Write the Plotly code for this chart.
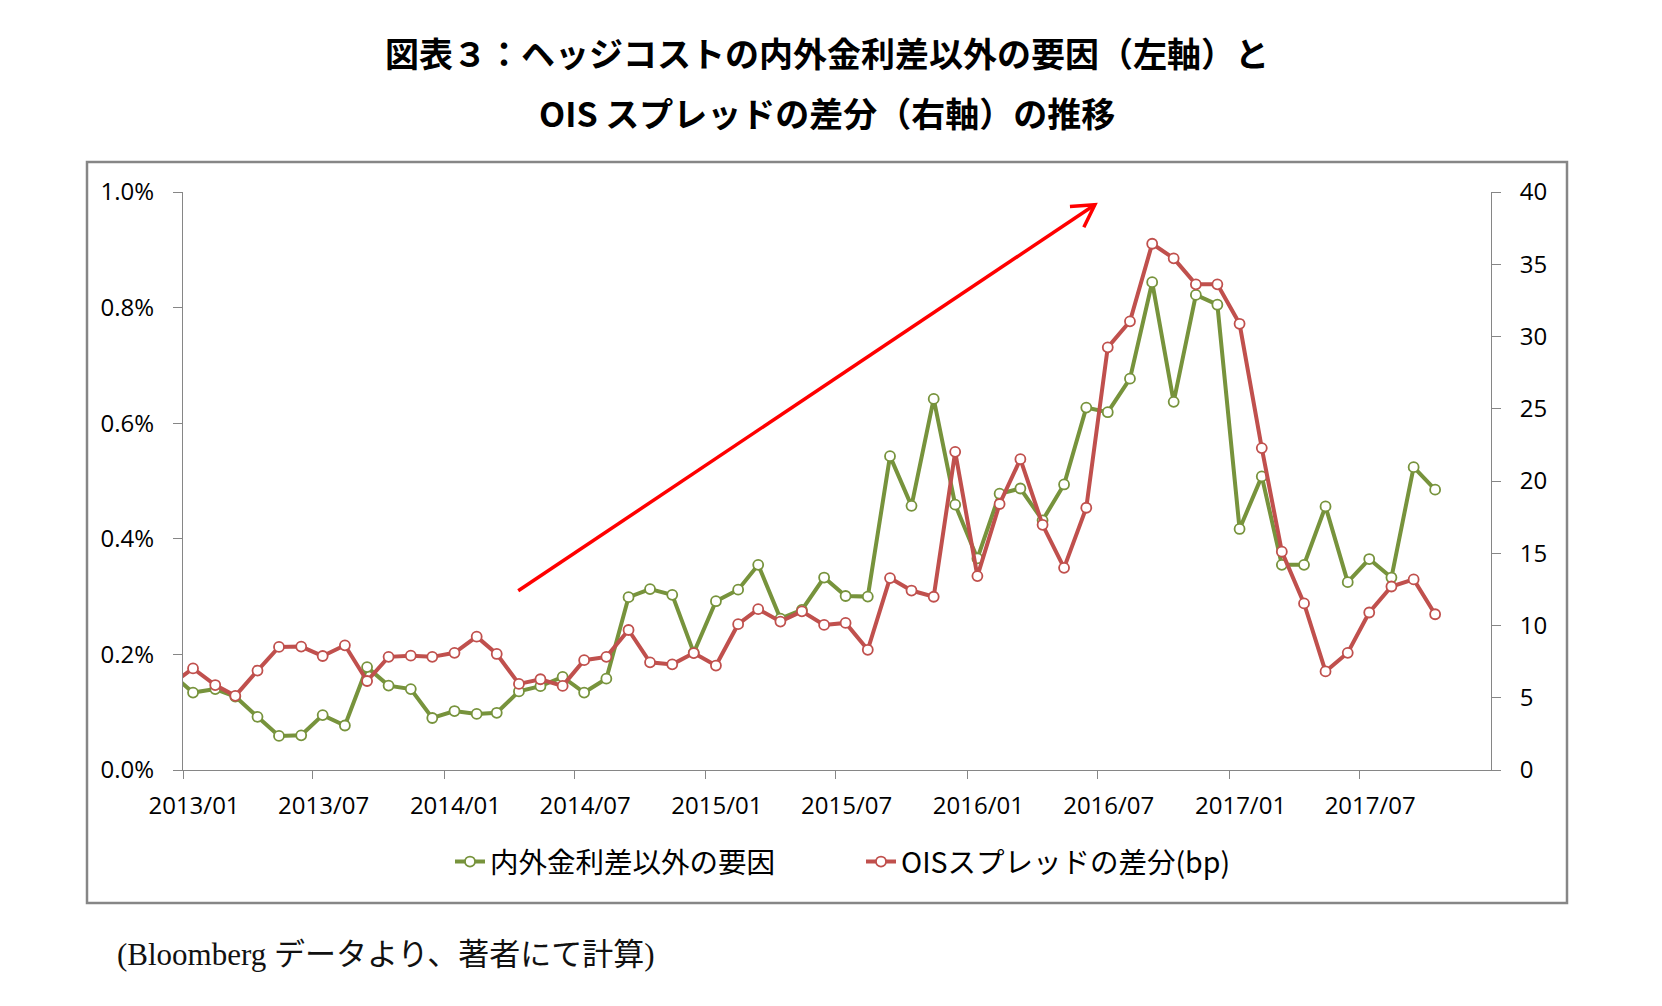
import math
import pandas as pd
import plotly.graph_objects as go

# ---------------- data ----------------
months = [
    "2012-12",
    "2013-01", "2013-02", "2013-03", "2013-04", "2013-05", "2013-06",
    "2013-07", "2013-08", "2013-09", "2013-10", "2013-11", "2013-12",
    "2014-01", "2014-02", "2014-03", "2014-04", "2014-05", "2014-06",
    "2014-07", "2014-08", "2014-09", "2014-10", "2014-11", "2014-12",
    "2015-01", "2015-02", "2015-03", "2015-04", "2015-05", "2015-06",
    "2015-07", "2015-08", "2015-09", "2015-10", "2015-11", "2015-12",
    "2016-01", "2016-02", "2016-03", "2016-04", "2016-05", "2016-06",
    "2016-07", "2016-08", "2016-09", "2016-10", "2016-11", "2016-12",
    "2017-01", "2017-02", "2017-03", "2017-04", "2017-05", "2017-06",
    "2017-07", "2017-08", "2017-09", "2017-10",
]

# 内外金利差以外の要因 (%), left axis
factor_pct = [
    0.167,
    0.134, 0.140, 0.127, 0.092, 0.059, 0.060,
    0.095, 0.077, 0.178, 0.146, 0.140, 0.090,
    0.102, 0.097, 0.099, 0.136, 0.145, 0.161,
    0.134, 0.158, 0.299, 0.313, 0.303, 0.203,
    0.292, 0.312, 0.355, 0.262, 0.277, 0.333,
    0.301, 0.300, 0.543, 0.457, 0.642, 0.459,
    0.366, 0.478, 0.487, 0.432, 0.494, 0.627,
    0.619, 0.677, 0.844, 0.637, 0.822, 0.805,
    0.417, 0.508, 0.355, 0.355, 0.456, 0.325,
    0.365, 0.333, 0.524, 0.485,
]

# OISスプレッドの差分 (bp), right axis
ois_diff_bp = [
    5.9,
    7.03, 5.88, 5.13, 6.88, 8.52, 8.54,
    7.89, 8.63, 6.16, 7.83, 7.91, 7.83,
    8.11, 9.23, 8.03, 5.96, 6.28, 5.82,
    7.60, 7.83, 9.69, 7.45, 7.31, 8.09,
    7.23, 10.09, 11.13, 10.27, 10.98, 10.04,
    10.18, 8.32, 13.28, 12.42, 11.99, 22.02,
    13.42, 18.41, 21.51, 16.97, 13.99, 18.15,
    29.25, 31.05, 36.42, 35.41, 33.61, 33.61,
    30.88, 22.28, 15.11, 11.53, 6.82, 8.11,
    10.90, 12.70, 13.19, 10.78,
]

tick_labels = ["2013/01", "2013/07", "2014/01", "2014/07", "2015/01",
               "2015/07", "2016/01", "2016/07", "2017/01", "2017/07"]

x_range = ["2013-01-01", "2018-01-01"]

# trend arrow (annotation), in data coordinates
arrow_start = ("2014-04-14", 0.310)
arrow_tip = ("2016-06-27", 0.978)

# ---------------- layout constants ----------------
W, H = 1662, 1006
L, R, T, B = 183, 1491, 192, 770  # plot area in pixels
GREEN = "#77933C"
RED = "#C0504D"
AXIS = "#868686"
ARROW = "#FF0000"


def px_x(px):
    return (px - L) / (R - L)


def px_y(py):
    return (B - py) / (B - T)


dates = pd.to_datetime(months, format="%Y-%m") + pd.Timedelta(days=14)
tickvals = pd.to_datetime(tick_labels, format="%Y/%m")

fig = go.Figure()
fig.add_trace(go.Scatter(
    x=dates, y=factor_pct, name="内外金利差以外の要因", mode="lines+markers",
    line=dict(color=GREEN, width=4),
    marker=dict(symbol="circle", size=10, color="white", line=dict(color=GREEN, width=1.8)),
    yaxis="y", cliponaxis=True,
))
fig.add_trace(go.Scatter(
    x=dates, y=ois_diff_bp, name="OISスプレッドの差分(bp)", mode="lines+markers",
    line=dict(color=RED, width=4),
    marker=dict(symbol="circle", size=10, color="white", line=dict(color=RED, width=1.8)),
    yaxis="y2", cliponaxis=True,
))

# arrow geometry in pixels (to build an open V head)
t0 = pd.Timestamp(x_range[0]).value
t1 = pd.Timestamp(x_range[1]).value


def dx_px(d):
    return L + (pd.Timestamp(d).value - t0) / (t1 - t0) * (R - L)


def dy_px(v):
    return B - v / 1.0 * (B - T)


sx, sy = dx_px(arrow_start[0]), dy_px(arrow_start[1])
ex, ey = dx_px(arrow_tip[0]), dy_px(arrow_tip[1])
ux, uy = sx - ex, -(sy - ey)  # back direction, y-up
n = math.hypot(ux, uy)
ux, uy = ux / n, uy / n
hl = 25
ang = math.radians(30)
w1 = (hl * (ux * math.cos(ang) - uy * math.sin(ang)), hl * (ux * math.sin(ang) + uy * math.cos(ang)))
w2 = (hl * (ux * math.cos(-ang) - uy * math.sin(-ang)), hl * (ux * math.sin(-ang) + uy * math.cos(-ang)))

shapes = [
    dict(type="rect", xref="paper", yref="paper",
         x0=px_x(87), x1=px_x(1567), y0=px_y(903), y1=px_y(162),
         line=dict(color=AXIS, width=2.5), layer="below"),
    dict(type="line", xref="x", yref="y",
         x0=arrow_start[0], y0=arrow_start[1], x1=arrow_tip[0], y1=arrow_tip[1],
         line=dict(color=ARROW, width=3.5)),
    dict(type="path", xref="x", yref="y", xsizemode="pixel", ysizemode="pixel",
         xanchor=arrow_tip[0], yanchor=arrow_tip[1],
         path=f"M{w1[0]:.2f},{w1[1]:.2f} L0,0 L{w2[0]:.2f},{w2[1]:.2f}",
         line=dict(color=ARROW, width=3.5)),
]

title_font = dict(family="Noto Sans CJK JP", size=34, color="#000000")
annotations = [
    dict(text="<b>図表３：ヘッジコストの内外金利差以外の要因（左軸）と</b>",
         xref="paper", yref="paper", x=px_x(827), y=px_y(52),
         xanchor="center", yanchor="middle", showarrow=False, font=title_font),
    dict(text="<b>OIS スプレッドの差分（右軸）の推移</b>",
         xref="paper", yref="paper", x=px_x(827), y=px_y(112),
         xanchor="center", yanchor="middle", showarrow=False, font=title_font),
    dict(text="(Bloomberg データより、著者にて計算)",
         xref="paper", yref="paper", x=px_x(115), y=px_y(954),
         xanchor="left", yanchor="middle", showarrow=False,
         font=dict(family="Liberation Serif, Noto Sans CJK JP", size=31, color="#111111")),
]

tick_font = dict(family="Open Sans, Noto Sans", size=24, color="#000000")

fig.update_layout(
    width=W, height=H,
    margin=dict(l=L, r=W - R, t=T, b=H - B, pad=0),
    paper_bgcolor="white", plot_bgcolor="white",
    font=dict(family="Open Sans, Noto Sans CJK JP", size=24, color="#000000"),
    showlegend=True,
    legend=dict(orientation="h", x=px_x(450), xanchor="left", y=px_y(862), yanchor="middle",
                font=dict(family="Noto Sans CJK JP", size=28.5, color="#000000"),
                entrywidth=366, entrywidthmode="pixels",
                bgcolor="rgba(0,0,0,0)", borderwidth=0),
    xaxis=dict(type="date", range=x_range, tickmode="array", tickvals=tickvals, ticktext=tick_labels,
               showline=True, linecolor=AXIS, linewidth=1, ticks="outside", ticklen=8,
               tickcolor=AXIS, tickwidth=1, showgrid=False, zeroline=False,
               tickfont=tick_font, ticklabelstandoff=6, ticklabelshift=11),
    yaxis=dict(range=[0, 1.0], tickmode="linear", tick0=0, dtick=0.2, tickformat=".1f", ticksuffix="%",
               showline=True, linecolor=AXIS, linewidth=1, ticks="outside", ticklen=9,
               tickcolor=AXIS, tickwidth=1, showgrid=False, zeroline=False,
               tickfont=tick_font, ticklabelstandoff=14),
    yaxis2=dict(range=[0, 40], tickmode="linear", tick0=0, dtick=5, overlaying="y", side="right",
                showline=True, linecolor=AXIS, linewidth=1, ticks="outside", ticklen=9,
                tickcolor=AXIS, tickwidth=1, showgrid=False, zeroline=False,
                tickfont=tick_font, ticklabelstandoff=14),
    shapes=shapes,
    annotations=annotations,
)

fig.write_html("out.html", config={"displayModeBar": False},
               post_script="document.body.style.margin='0';")
